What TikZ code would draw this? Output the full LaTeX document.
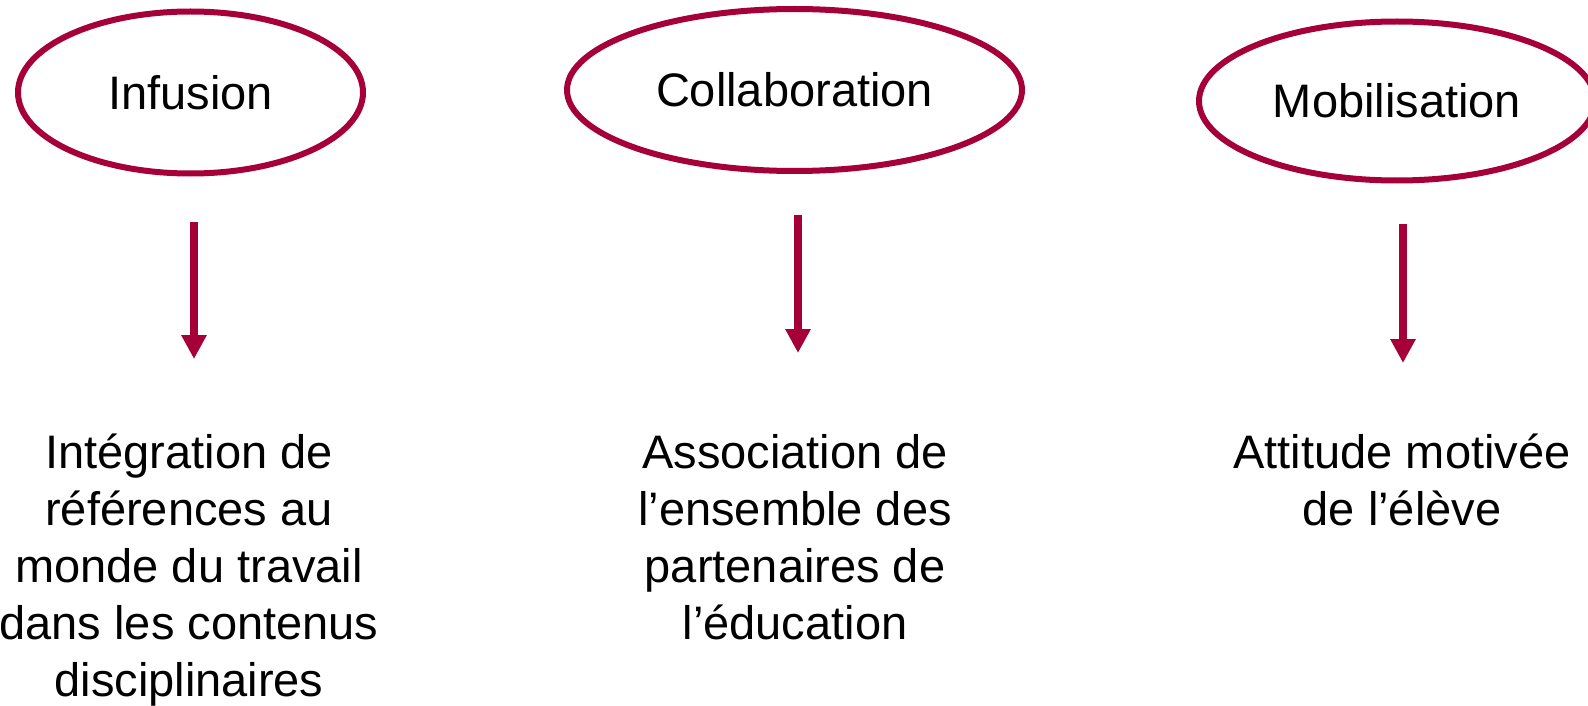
\documentclass[tikz,border=0pt]{standalone}
\usepackage{fontspec}
\setmainfont{Liberation Sans}
\usetikzlibrary{shapes.geometric,arrows.meta}
\definecolor{crim}{RGB}{166,0,56}
\tikzset{
  oval/.style={ellipse, draw=crim, line width=6pt, inner sep=0pt, font=\fontsize{47}{57}\selectfont},
  arr/.style={draw=crim, line width=8pt, -{Triangle[width=24pt,length=24pt]}},
  desc/.style={align=center, inner sep=0pt, anchor=north, font=\fontsize{47}{57}\selectfont}
}
\begin{document}
\begin{tikzpicture}[x=1pt,y=-1pt]
\useasboundingbox (0,0) rectangle (1588,706);
\node[oval, minimum width=345pt, minimum height=162pt] (e1) at (190.5,92.5) {Infusion};
\node[oval, minimum width=455pt, minimum height=162pt] (e2) at (794.5,90) {Collaboration};
\node[oval, minimum width=396pt, minimum height=159pt] (e3) at (1397,101) {Mobilisation};
\coordinate (a1s) at (194,222); \coordinate (a1e) at (194,359);
\coordinate (a2s) at (798,215); \coordinate (a2e) at (798,353);
\coordinate (a3s) at (1403,224); \coordinate (a3e) at (1403,363);
\draw[arr] (a1s) -- (a1e);
\draw[arr] (a2s) -- (a2e);
\draw[arr] (a3s) -- (a3e);
\node[desc] (t1) at (189,434) {Intégration de\\références au\\monde du travail\\dans les contenus\\disciplinaires};
\node[desc] (t2) at (795,434) {Association de\\l’ensemble des\\partenaires de\\l’éducation};
\node[desc] (t3) at (1402,434) {Attitude motivée\\de l’élève};
\end{tikzpicture}
\end{document}
